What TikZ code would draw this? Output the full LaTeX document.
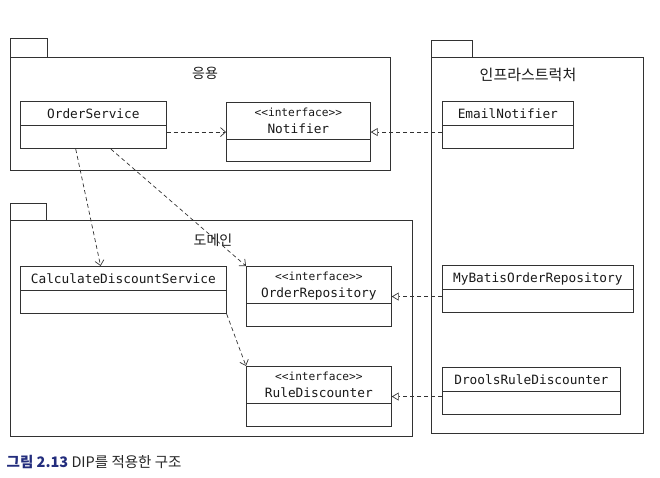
\documentclass[tikz,border=0pt]{standalone}
\usepackage{fontspec}
\setmonofont{DejaVu Sans Mono}
\newfontfamily\krfont{Noto Sans CJK KR}
\usetikzlibrary{positioning,shapes.multipart,arrows.meta,calc}
\definecolor{linegray}{RGB}{50,50,50}
\definecolor{capblue}{RGB}{35,45,125}
% header texts of the class boxes
\newcommand{\clsname}[1]{\rule[-6pt]{0pt}{23pt}#1}
\newcommand{\ifacename}[1]{\rule[-5pt]{0pt}{36pt}\begin{tabular}[b]{@{}c@{}}{\fontsize{11.2}{12}\selectfont<<interface>>}\\[2pt]#1\end{tabular}}

\begin{document}
\begin{tikzpicture}[x=1pt,y=-1pt,line width=0.7pt,color=linegray,
    classbox/.style={rectangle split, rectangle split parts=2, draw, anchor=north west,
        inner ysep=0pt, inner xsep=2pt, text=black!90,
        font=\ttfamily\fontsize{12.8}{15}\selectfont},
    pkglabel/.style={font=\krfont\fontsize{14}{16}\selectfont, text=black!90},
    dep/.style={dash pattern=on 4pt off 3pt, -{Straight Barb[length=5pt,width=9pt]}},
    impl/.style={dash pattern=on 4pt off 3pt, -{Triangle[open,length=7pt,width=8pt]}}]
    \useasboundingbox (0,0) rectangle (660,477);

    % packages
    \draw (10,38) rectangle (47,57);
    \draw (10,57) rectangle (390,170);
    \node[pkglabel] (app) at (205,73) {응용};

    \draw (10,203) rectangle (46,220);
    \draw (10,220) rectangle (412,436);
    \node[pkglabel] (domain) at (213,240) {도메인};

    \draw (431,40) rectangle (472,57);
    \draw (431,57) rectangle (643,433);
    \node[pkglabel, font=\krfont\fontsize{15}{17}\selectfont] (infra) at (528,75) {인프라스트럭처};

    % classes
    \node[classbox, minimum width=146pt] (os) at (20,101) {\clsname{OrderService}\nodepart{two}\rule{0pt}{23pt}};
    \node[classbox, minimum width=144pt] (nt) at (226,102) {\ifacename{Notifier}\nodepart{two}\rule{0pt}{22pt}};
    \node[classbox, minimum width=131pt] (em) at (442,101) {\clsname{EmailNotifier}\nodepart{two}\rule{0pt}{23pt}};

    \node[classbox, minimum width=206pt] (calc) at (20,266) {\clsname{CalculateDiscountService}\nodepart{two}\rule{0pt}{23pt}};
    \node[classbox, minimum width=145pt] (orep) at (246,266) {\ifacename{OrderRepository}\nodepart{two}\rule{0pt}{23pt}};
    \node[classbox, minimum width=145pt] (rule) at (246,366) {\ifacename{RuleDiscounter}\nodepart{two}\rule{0pt}{23pt}};

    \node[classbox, minimum width=191pt] (mb) at (442,265) {\clsname{MyBatisOrderRepository}\nodepart{two}\rule{0pt}{23pt}};
    \node[classbox, minimum width=178pt] (dr) at (442,367) {\clsname{DroolsRuleDiscounter}\nodepart{two}\rule{0pt}{23pt}};

    % dependencies
    \draw[dep] (os.east |- nt.west) -- (nt.west);
    \draw[dep] ($(os.south west)!0.38!(os.south east)$) -- ($(calc.north west)!0.39!(calc.north east)$);
    \draw[dep] ($(os.south west)!0.62!(os.south east)$) -- (orep.north west);
    \draw[dep] (calc.south east) -- (rule.north west);

    % implementations
    \draw[impl] (em.west |- nt.east) -- (nt.east);
    \draw[impl] (mb.west |- orep.east) -- (orep.east);
    \draw[impl] (dr.west |- rule.east) -- (rule.east);

    % caption
    \node[anchor=west, text=black!85, font=\krfont\fontsize{14.5}{16}\selectfont] (caption) at (3,462)
        {\textcolor{capblue}{\bfseries 그림 2.13} DIP를 적용한 구조};
\end{tikzpicture}
\end{document}
